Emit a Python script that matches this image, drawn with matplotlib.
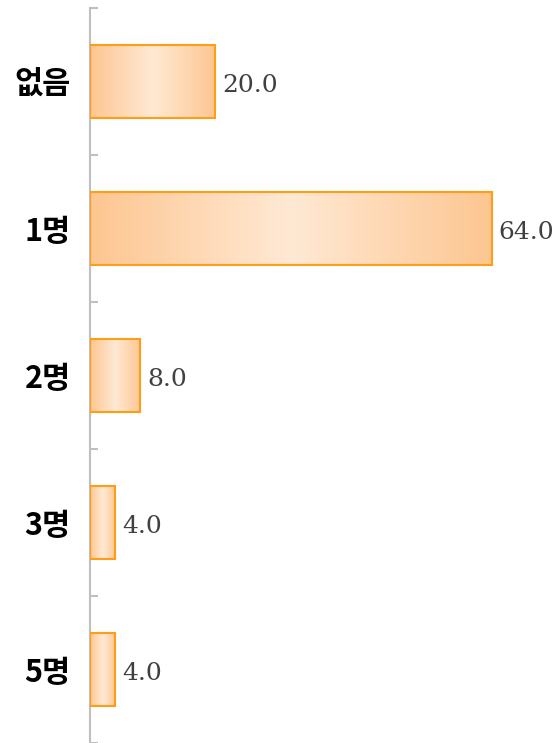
import numpy as np
import matplotlib
matplotlib.use("Agg")
import matplotlib.pyplot as plt
from matplotlib.colors import LinearSegmentedColormap
from matplotlib.patches import Rectangle

plt.rcParams['font.family'] = ['Noto Sans CJK KR', 'DejaVu Sans']

categories = ['없음', '1명', '2명', '3명', '5명']
values = [20.0, 64.0, 8.0, 4.0, 4.0]
value_labels = ['20.0', '64.0', '8.0', '4.0', '4.0']

fig = plt.figure(figsize=(5.58, 7.43), dpi=100)
ax = fig.add_axes([90 / 558, 0.0, 1 - 90 / 558, 1 - 8 / 743])

n = len(categories)
ypos = np.arange(n)
bar_h = 0.5

grad = LinearSegmentedColormap.from_list('g', ['#fdc691', '#ffe9d4', '#fdc691'])
gx = np.linspace(0, 1, 256).reshape(1, -1)

for y, v in zip(ypos, values):
    rect = Rectangle((0, y - bar_h / 2), v, bar_h, facecolor='none',
                     edgecolor='#ff9d14', linewidth=1.5, zorder=3)
    ax.add_patch(rect)
    im = ax.imshow(gx, cmap=grad, aspect='auto',
                   extent=[0, v, y + bar_h / 2, y - bar_h / 2], zorder=2)
    im.set_clip_path(rect)

for y, v, lab in zip(ypos, values, value_labels):
    ax.text(v + 1.1, y + 0.03, lab, va='center', ha='left', fontsize=18,
            family='DejaVu Serif', fontweight='light', color='#404040')

ax.set_xlim(0, 74.6)
ax.set_ylim(n - 0.5, -0.5)
ax.set_yticks(ypos)
ax.set_yticklabels(categories, fontsize=22, fontweight='bold')
ax.set_yticks(np.arange(-0.5, n, 1), minor=True)
ax.tick_params(axis='y', which='major', length=0, pad=14)
ax.tick_params(axis='y', which='minor', direction='in', length=6, color='#bfbfbf', width=1.5)
ax.set_xticks([])
for s in ['top', 'right', 'bottom']:
    ax.spines[s].set_visible(False)
ax.spines['left'].set_color('#bfbfbf')
ax.spines['left'].set_linewidth(1.5)

fig.savefig('out.png', dpi=100)
